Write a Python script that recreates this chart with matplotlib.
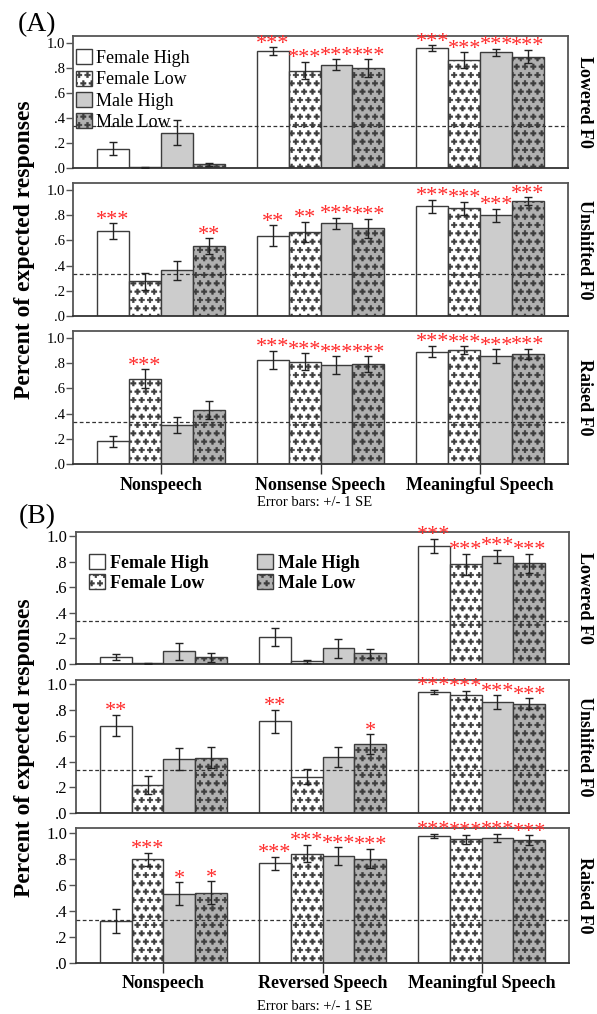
import numpy as np
import matplotlib
matplotlib.use("Agg")
import matplotlib.pyplot as plt
import matplotlib.hatch as mhatch
from matplotlib.path import Path
from matplotlib.patches import Patch

# ---------------- data ----------------
series = ["Female High", "Female Low", "Male High", "Male Low"]
cats_A = ["Nonspeech", "Nonsense Speech", "Meaningful Speech"]
cats_B = ["Nonspeech", "Reversed Speech", "Meaningful Speech"]
conditions = ["Lowered F0", "Unshifted F0", "Raised F0"]
ytick_vals = [0.0, 0.2, 0.4, 0.6, 0.8, 1.0]
ytick_labels = [".0", ".2", ".4", ".6", ".8", "1.0"]
chance = 1 / 3

# Panel A: rows = category, cols = series (FH, FL, MH, ML)
A_lowered_mean = [[0.155, 0.005, 0.28, 0.03], [0.935, 0.778, 0.827, 0.80], [0.96, 0.861, 0.925, 0.89]]
A_lowered_se = [[0.055, 0.004, 0.10, 0.012], [0.03, 0.07, 0.043, 0.07], [0.022, 0.064, 0.028, 0.053]]
A_lowered_sig = [["", "", "", ""], ["***", "***", "***", "***"], ["***", "***", "***", "***"]]

A_unshifted_mean = [[0.673, 0.274, 0.362, 0.553], [0.638, 0.665, 0.734, 0.697], [0.872, 0.854, 0.798, 0.91]]
A_unshifted_se = [[0.062, 0.067, 0.077, 0.064], [0.082, 0.08, 0.045, 0.076], [0.052, 0.053, 0.053, 0.03]]
A_unshifted_sig = [["***", "", "", "**"], ["**", "**", "***", "***"], ["***", "***", "***", "***"]]

A_raised_mean = [[0.182, 0.676, 0.311, 0.426], [0.824, 0.813, 0.784, 0.792], [0.892, 0.905, 0.855, 0.871]]
A_raised_se = [[0.044, 0.075, 0.063, 0.072], [0.072, 0.066, 0.071, 0.062], [0.046, 0.03, 0.055, 0.042]]
A_raised_sig = [["", "***", "", ""], ["***", "***", "***", "***"], ["***", "***", "***", "***"]]

# Panel B
B_lowered_mean = [[0.053, 0.005, 0.099, 0.051], [0.213, 0.021, 0.123, 0.083], [0.925, 0.781, 0.843, 0.789]]
B_lowered_se = [[0.025, 0.003, 0.064, 0.033], [0.073, 0.013, 0.073, 0.036], [0.056, 0.084, 0.052, 0.075]]
B_lowered_sig = [["", "", "", ""], ["", "", "", ""], ["***", "***", "***", "***"]]

B_unshifted_mean = [[0.68, 0.216, 0.419, 0.43], [0.714, 0.281, 0.435, 0.536], [0.943, 0.919, 0.862, 0.852]]
B_unshifted_se = [[0.082, 0.07, 0.087, 0.082], [0.09, 0.059, 0.08, 0.077], [0.018, 0.03, 0.055, 0.04]]
B_unshifted_sig = [["**", "", "", ""], ["**", "", "", "*"], ["***", "***", "***", "***"]]

B_raised_mean = [[0.321, 0.797, 0.532, 0.539], [0.763, 0.839, 0.818, 0.80], [0.974, 0.947, 0.958, 0.942]]
B_raised_se = [[0.092, 0.05, 0.088, 0.088], [0.053, 0.065, 0.07, 0.074], [0.017, 0.034, 0.033, 0.037]]
B_raised_sig = [["", "***", "*", "*"], ["***", "***", "***", "***"], ["***", "***", "***", "***"]]

# ---------------- custom "plus sign" hatch (replaces '*' star hatch) ----------------
class PlusHatch(mhatch.Shapes):
    size = 0.32
    filled = True

    def __init__(self, hatch, density):
        self.num_rows = hatch.count('*') * density
        w = 0.3
        v = np.array([(-w, 1), (w, 1), (w, w), (1, w), (1, -w), (w, -w), (w, -1),
                      (-w, -1), (-w, -w), (-1, -w), (-1, w), (-w, w), (-w, 1)], dtype=float)
        self.shape_vertices = v
        codes = np.full(len(v), Path.LINETO, dtype=Path.code_type)
        codes[0] = Path.MOVETO
        codes[-1] = Path.CLOSEPOLY
        self.shape_codes = codes
        super().__init__(hatch, density)

mhatch._hatch_types = [PlusHatch if t is mhatch.Stars else t for t in mhatch._hatch_types]
plt.rcParams['hatch.linewidth'] = 0.4

# ---------------- styling ----------------
plt.rcParams['font.family'] = ['Liberation Serif', 'DejaVu Serif']
faces = ['white', 'white', '#cccccc', '#b0b0b0']
hatches = ['', '**', '', '**']
edge = '#3c3c3c'
spine_col = '#555555'
star_col = '#ff2a2a'

W, H = 597, 1014
fig = plt.figure(figsize=(W / 100, H / 100), dpi=100)

def fr(left, right, top, bottom):
    return [left / W, 1 - bottom / H, (right - left) / W, (bottom - top) / H]

panels = [
    dict(cats=cats_A, left=73, right=568, tops=[36, 183, 331], bottoms=[168, 316, 464], ytop=1.055,
         means=[A_lowered_mean, A_unshifted_mean, A_raised_mean],
         ses=[A_lowered_se, A_unshifted_se, A_raised_se],
         sigs=[A_lowered_sig, A_unshifted_sig, A_raised_sig], tickfs=10.5,
         label="(A)", label_y=25, ylab_y=250, err_y=503, legend='A'),
    dict(cats=cats_B, left=76, right=569, tops=[532, 680, 828], bottoms=[664, 813, 963], ytop=1.035,
         means=[B_lowered_mean, B_unshifted_mean, B_raised_mean],
         ses=[B_lowered_se, B_unshifted_se, B_raised_se],
         sigs=[B_lowered_sig, B_unshifted_sig, B_raised_sig], tickfs=12,
         label="(B)", label_y=517, ylab_y=748, err_y=1006, legend='B'),
]

width = 0.2
x = np.arange(3)
offsets = (np.arange(4) - 1.5) * width

for p in panels:
    for r in range(3):
        ax = fig.add_axes(fr(p['left'], p['right'], p['tops'][r], p['bottoms'][r]))
        means = np.array(p['means'][r])
        ses = np.array(p['ses'][r])
        sigs = p['sigs'][r]
        for s in range(4):
            xs = x + offsets[s]
            ax.bar(xs, means[:, s], width=width, color=faces[s], edgecolor=edge,
                   hatch=hatches[s], linewidth=1.0, zorder=2)
            ax.errorbar(xs, means[:, s], yerr=ses[:, s], fmt='none', ecolor='#222222',
                        elinewidth=1.0, capsize=3, capthick=1.0, zorder=4)
            for c in range(3):
                if sigs[c][s]:
                    ax.annotate(sigs[c][s], (xs[c], means[c, s] + ses[c, s]), xytext=(0, -1),
                                textcoords='offset points', ha='center', va='baseline',
                                color=star_col, fontsize=16, annotation_clip=False,
                                zorder=5)
        ax.axhline(chance, color='#333333', linestyle=(0, (3, 2)), linewidth=0.9, zorder=3)
        ax.set_xlim(-0.55, 2.55)
        ax.set_ylim(0, p['ytop'])
        ax.set_yticks(ytick_vals)
        ax.set_yticklabels(ytick_labels, fontsize=p['tickfs'])
        ax.tick_params(axis='y', direction='out', length=5, width=1, color=spine_col, pad=1)
        for sp in ax.spines.values():
            sp.set_color(spine_col)
            sp.set_linewidth(1.3)
        ax.spines['bottom'].set_color('#333333')
        if r == 2:
            ax.set_xticks(x)
            ax.set_xticklabels(p['cats'], fontsize=13, fontweight='bold')
            ax.tick_params(axis='x', direction='out', length=7, width=1, color='#333333', pad=2)
        else:
            ax.set_xticks([])
        ymid = (p['tops'][r] + p['bottoms'][r]) / 2
        fig.text(584 / W, 1 - ymid / H, conditions[r], rotation=270, ha='center', va='center',
                 fontsize=13, fontweight='bold')
        if r == 0:
            handles = [Patch(facecolor=faces[s], edgecolor=edge, hatch=hatches[s], linewidth=1.0)
                       for s in range(4)]
            if p['legend'] == 'A':
                ax.legend(handles, series, loc='upper left', bbox_to_anchor=(0.006, 0.90),
                          frameon=False, fontsize=13, handlelength=0.9, handleheight=0.9,
                          handletextpad=0.2, labelspacing=0.2, borderaxespad=0, borderpad=0)
            else:
                ax.legend(handles, series, loc='upper left', bbox_to_anchor=(0.026, 0.83), ncol=2,
                          frameon=False, prop=dict(size=13, weight='bold'), handlelength=0.9,
                          handleheight=0.9, handletextpad=0.25, labelspacing=0.12,
                          columnspacing=2.7, borderaxespad=0, borderpad=0)
    fig.text(37 / W, 1 - p['label_y'] / H, p['label'], ha='center', va='center', fontsize=20)
    fig.text(25 / W, 1 - p['ylab_y'] / H, "Percent of expected responses", rotation=90,
             ha='center', va='center', fontsize=17, fontweight='bold')
    fig.text(315 / W, 1 - p['err_y'] / H, "Error bars: +/- 1 SE", ha='center', va='center',
             fontsize=10.5)

fig.savefig("out.png", dpi=100)
